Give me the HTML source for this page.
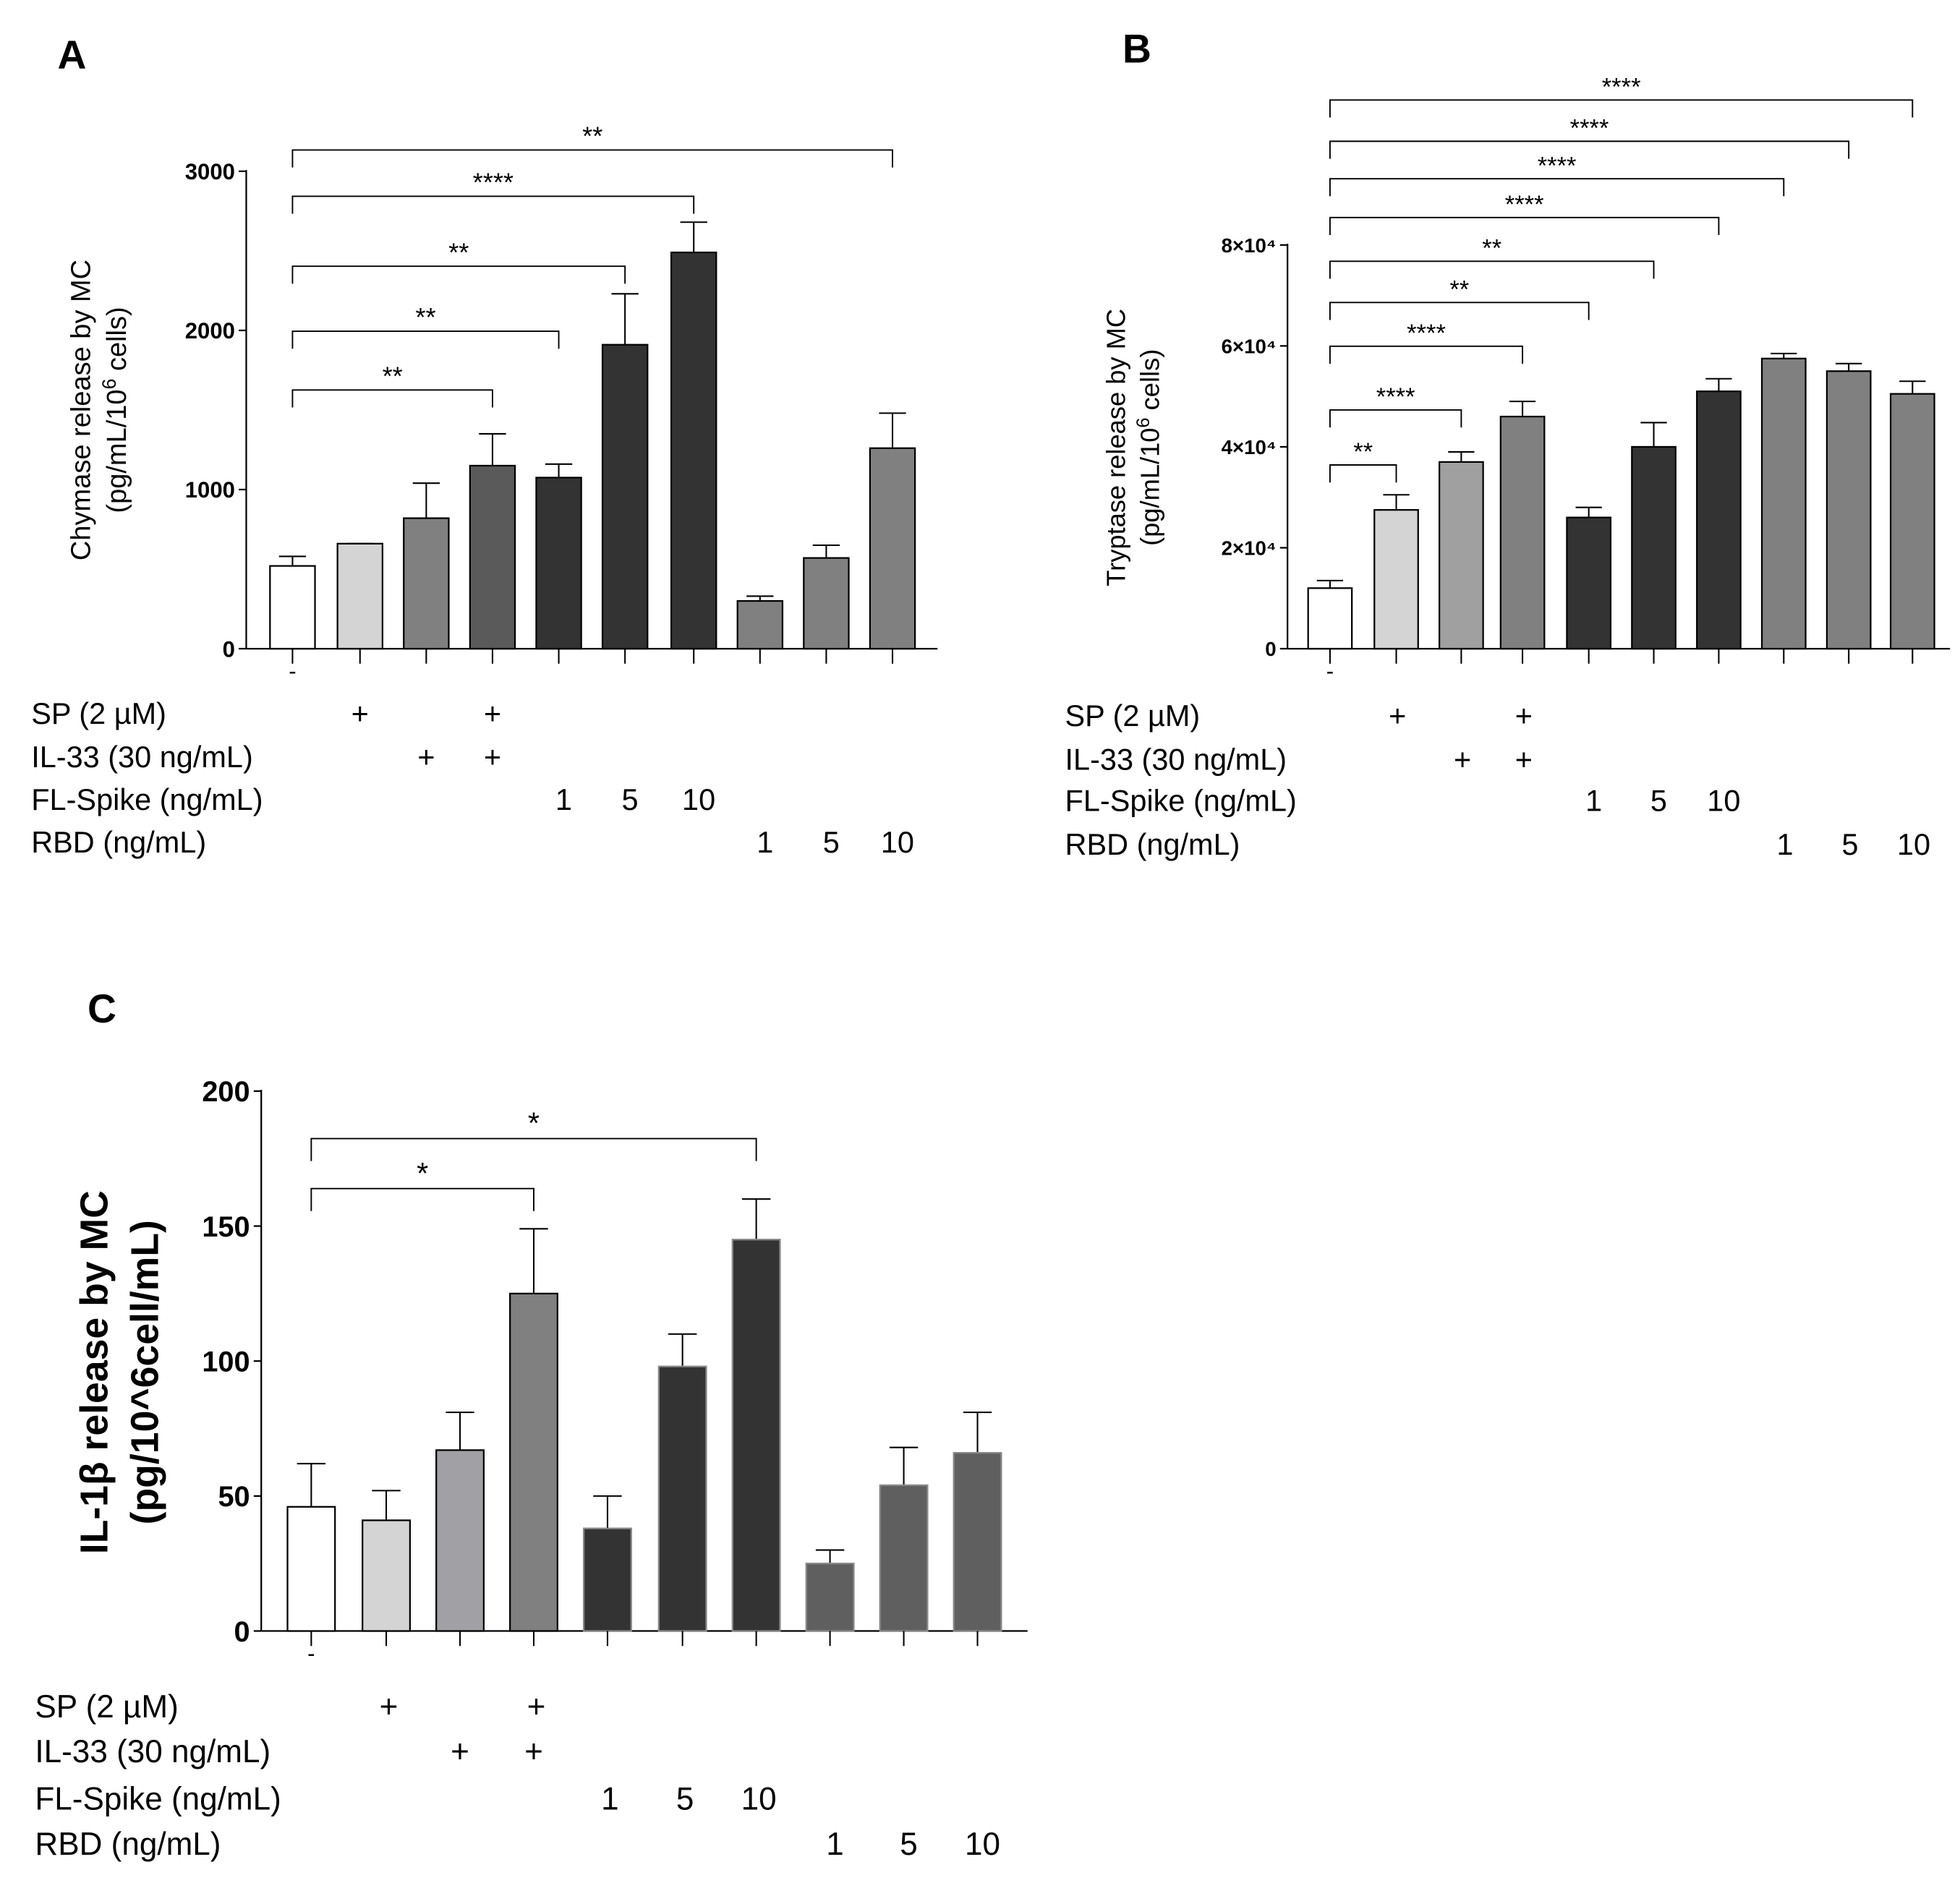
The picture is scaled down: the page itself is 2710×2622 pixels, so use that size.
<!DOCTYPE html>
<html><head><meta charset="utf-8"><style>
html,body{margin:0;padding:0;background:#fff;}
svg{display:block;font-family:"Liberation Sans",sans-serif;}
</style></head><body>
<svg id="fig" width="2710" height="2622" viewBox="0 0 1568 1517" xmlns="http://www.w3.org/2000/svg"></svg>
<script>
// Panel A data
const aValues = [520, 660, 820, 1150, 1075, 1910, 2490, 300, 570, 1260];
const aErrors = [580, 660, 1040, 1350, 1160, 2230, 2680, 330, 650, 1480];
const aTicks = [0, 1000, 2000, 3000];
const aTickLabels = ["0", "1000", "2000", "3000"];
const aSig = [["**", 9], ["****", 6], ["**", 5], ["**", 4], ["**", 3]];
// Panel B data
const bValues = [12000, 27500, 37000, 46000, 26000, 40000, 51000, 57500, 55000, 50500];
const bErrors = [13500, 30500, 39000, 49000, 28000, 44800, 53500, 58500, 56500, 53000];
const bTicks = [0, 20000, 40000, 60000, 80000];
const bTickLabels = ["0", "2×10⁴", "4×10⁴", "6×10⁴", "8×10⁴"];
const bSig = [["****", 9], ["****", 8], ["****", 7], ["****", 6], ["**", 5], ["**", 4], ["****", 3], ["****", 2], ["**", 1]];
// Panel C data
const cValues = [46, 41, 67, 125, 38, 98, 145, 25, 54, 66];
const cErrors = [62, 52, 81, 149, 50, 110, 160, 30, 68, 81];
const cTicks = [0, 50, 100, 150, 200];
const cTickLabels = ["0", "50", "100", "150", "200"];
const cSig = [["*", 6], ["*", 3]];

const NS = "http://www.w3.org/2000/svg";
const svg = document.getElementById("fig");
function mk(tag, attrs, parent, text) {
  const e = document.createElementNS(NS, tag);
  for (const k in attrs) e.setAttribute(k, attrs[k]);
  if (text !== undefined) e.textContent = text;
  (parent || svg).appendChild(e);
  return e;
}

function panel(cfg) {
  const g = mk("g", {});
  
  
  const y = v => cfg.y0 - (v - cfg.vmin) / (cfg.vmax - cfg.vmin) * (cfg.y0 - cfg.yTop);
  const xs = cfg.xs;
  const ya = mk("line", {x1: cfg.ax, y1: cfg.yTop - 1, x2: cfg.ax, y2: cfg.y0, stroke: "#000", "stroke-width": 1.3}, g);
  
  
  const xa = mk("line", {x1: cfg.ax, y1: cfg.y0, x2: cfg.axEnd, y2: cfg.y0, stroke: "#000", "stroke-width": 1.3}, g);
  
  
  cfg.ticks.forEach((t, i) => {
    mk("line", {x1: cfg.ax - 6, y1: y(t), x2: cfg.ax, y2: y(t), stroke: "#000", "stroke-width": 1.3}, g);
    const tl = mk("text", {x: cfg.ax - 9, y: y(t) + cfg.tickFs * 0.36, "text-anchor": "end", "font-size": cfg.tickFs, "font-weight": "bold"}, g, cfg.tickLabels[i]);
    
    
  });
  cfg.values.forEach((v, i) => {
    const x = xs[i];
    mk("line", {x1: x, y1: y(v), x2: x, y2: y(cfg.errors[i]), stroke: "#000", "stroke-width": 1.2}, g);
    mk("line", {x1: x - cfg.bw * 0.3, y1: y(cfg.errors[i]), x2: x + cfg.bw * 0.3, y2: y(cfg.errors[i]), stroke: "#000", "stroke-width": 1.2}, g);
    const r = mk("rect", {x: x - cfg.bw / 2, y: y(v), width: cfg.bw, height: cfg.y0 - y(v), fill: cfg.colors[i], stroke: cfg.edge[i], "stroke-width": 1.3}, g);
    
    
    mk("line", {x1: x, y1: cfg.y0, x2: x, y2: cfg.y0 + 12, stroke: "#000", "stroke-width": 1.2}, g);
  });
  cfg.sig.forEach((s, i) => {
    const ly = cfg.sigY[i];
    const x1 = xs[0], x2 = xs[s[1]];
    const p = mk("path", {d: `M${x1},${ly + cfg.drop} V${ly} H${x2} V${ly + cfg.drop}`, fill: "none", stroke: "#000", "stroke-width": 1.1}, g);
    
    
    const st = mk("text", {x: (x1 + x2) / 2, y: ly - 4, "text-anchor": "middle", "font-size": cfg.starFs}, g, s[0]);
    
    
  });
  mk("text", {x: xs[0], y: cfg.y0 + 24, "text-anchor": "middle", "font-size": 18}, g, "-");
  const tt = mk("text", {transform: `translate(${cfg.titleX},${cfg.titleY}) rotate(-90)`, "text-anchor": "middle", "font-size": cfg.titleFs, "font-weight": cfg.titleW}, g);
  
  
  mk("tspan", {x: 0, y: 0}, tt, cfg.title1);
  mk("tspan", {x: 0, dy: cfg.titleFs * 1.3}, tt, cfg.title2a);
  if (cfg.title2sup) {
    mk("tspan", {dy: -8, "font-size": cfg.titleFs * 0.7}, tt, cfg.title2sup);
    mk("tspan", {dy: 8}, tt, cfg.title2b);
  }
  const L = mk("text", {x: cfg.letter[1], y: cfg.letter[2], "font-size": 32, "font-weight": "bold"}, g, cfg.letter[0]);
  
  
  const rows = [["SP (2 µM)", [[1, "+"], [3, "+"]]], ["IL-33 (30 ng/mL)", [[2, "+"], [3, "+"]]], ["FL-Spike (ng/mL)", [[4, "1"], [5, "5"], [6, "10"]]], ["RBD (ng/mL)", [[7, "1"], [8, "5"], [9, "10"]]]];
  rows.forEach((r, i) => {
    const ry = cfg.rowY[i];
    const rl = mk("text", {x: cfg.rowX, y: ry + 8, "font-size": cfg.rowFs}, g, r[0]);
    
    
    r[1].forEach(c => {
      mk("text", {x: xs[c[0]] + cfg.rowShift[i], y: ry + 8, "text-anchor": "middle", "font-size": cfg.rowFs}, g, c[1]);
    });
  });
}

panel({name: "panel-a-chymase", values: aValues, errors: aErrors, ticks: aTicks, tickLabels: aTickLabels, sig: aSig,
  vmin: 0, vmax: 3000, y0: 519, yTop: 137, ax: 197, axEnd: 750, bw: 36, tickFs: 18,
  xs: [234, 288, 341, 394, 447, 500, 555, 608, 661, 714],
  colors: ["#fff", "#d4d4d4", "#808080", "#5a5a5a", "#333", "#333", "#333", "#808080", "#808080", "#808080"],
  edge: Array(10).fill("#000"),
  sigY: [120, 157, 213, 265, 312], drop: 14, starFs: 21,
  titleX: 72, titleY: 328, titleFs: 22, titleW: "normal", title1: "Chymase release by MC", title2a: "(pg/mL/10", title2sup: "6", title2b: " cells)",
  letter: ["A", 46, 55], rowX: 25, rowY: [571, 606, 640, 674], rowShift: [0, 0, 4, 4], rowFs: 24});

panel({name: "panel-b-tryptase", values: bValues, errors: bErrors, ticks: bTicks, tickLabels: bTickLabels, sig: bSig,
  vmin: 0, vmax: 80000, y0: 519, yTop: 196, ax: 1030, axEnd: 1560, bw: 35, tickFs: 16,
  xs: [1064, 1117, 1169, 1218, 1271, 1323, 1375, 1427, 1479, 1530],
  colors: ["#fff", "#d4d4d4", "#a0a0a0", "#808080", "#333", "#333", "#333", "#808080", "#808080", "#808080"],
  edge: Array(10).fill("#000"),
  sigY: [80, 113, 143, 174, 209, 242, 277, 328, 372], drop: 14, starFs: 20,
  titleX: 900, titleY: 358, titleFs: 21, titleW: "normal", title1: "Tryptase release by MC", title2a: "(pg/mL/10", title2sup: "6", title2b: " cells)",
  letter: ["B", 898, 50], rowX: 852, rowY: [573, 608, 641, 676], rowShift: [1, 1, 4, 1], rowFs: 24});

panel({name: "panel-c-il1b", values: cValues, errors: cErrors, ticks: cTicks, tickLabels: cTickLabels, sig: cSig,
  vmin: 0, vmax: 200, y0: 1305, yTop: 873, ax: 209, axEnd: 822, bw: 38, tickFs: 23,
  xs: [249, 309, 368, 427, 486, 546, 605, 664, 723, 782],
  colors: ["#fff", "#d4d4d4", "#a0a0a5", "#808080", "#333", "#333", "#333", "#5f5f5f", "#5f5f5f", "#5f5f5f"],
  edge: ["#000", "#000", "#000", "#000", "#888", "#888", "#888", "#888", "#888", "#888"],
  sigY: [911, 951], drop: 18, starFs: 24,
  titleX: 86, titleY: 1098, titleFs: 31, titleW: "bold", title1: "IL-1β release by MC", title2a: "(pg/10^6cell/mL)", title2sup: null,
  letter: ["C", 70, 818], rowX: 28, rowY: [1366, 1402, 1440, 1476], rowShift: [2, 0, 2, 4], rowFs: 25.5});
</script>
</body></html>
